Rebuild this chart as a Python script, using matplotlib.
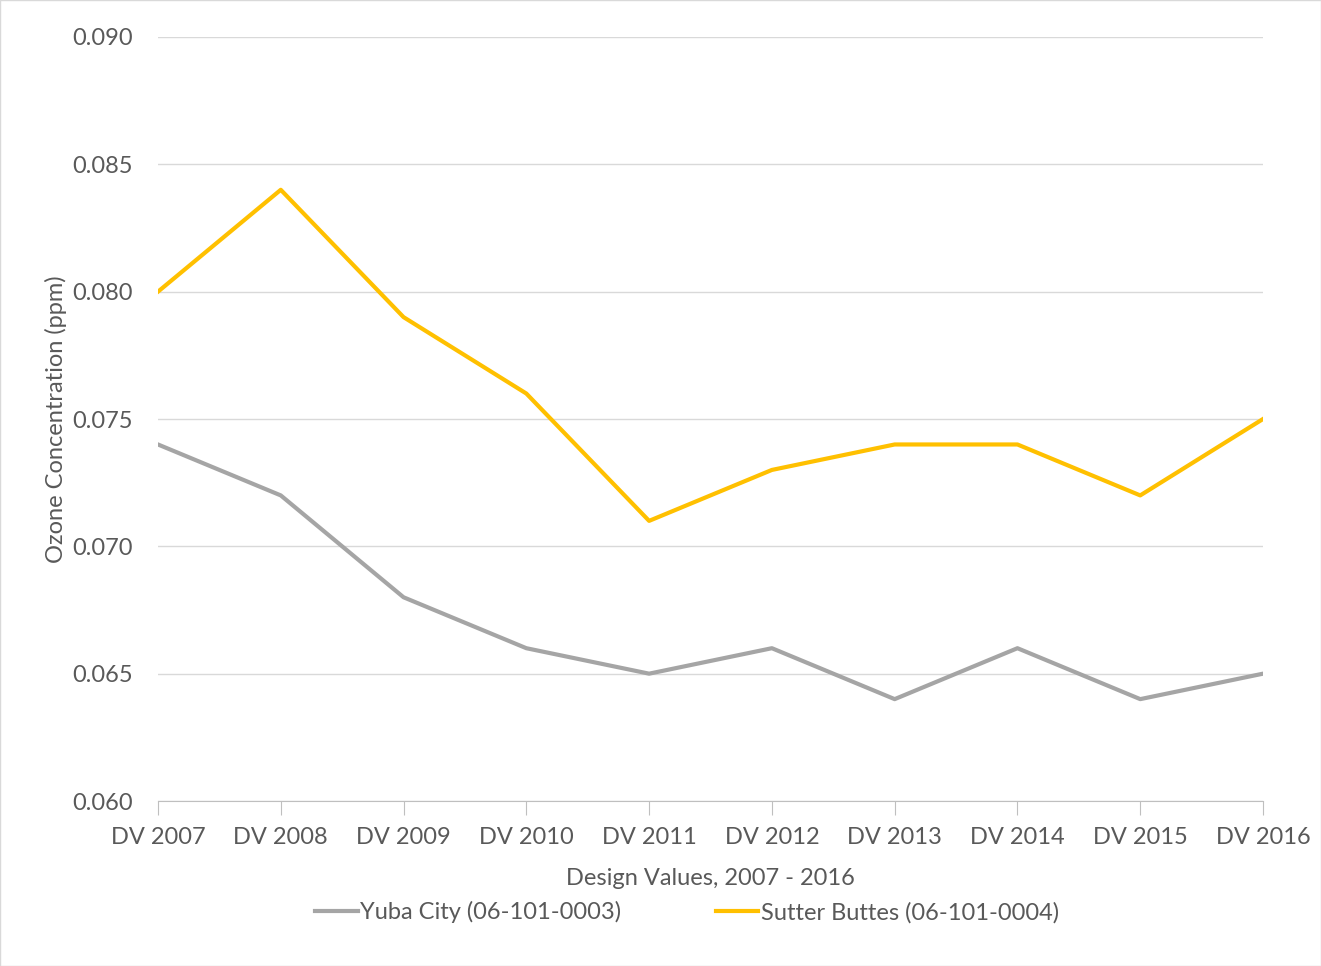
import matplotlib.pyplot as plt

years = ["DV 2007", "DV 2008", "DV 2009", "DV 2010", "DV 2011",
         "DV 2012", "DV 2013", "DV 2014", "DV 2015", "DV 2016"]
yuba_city = [0.074, 0.072, 0.068, 0.066, 0.065, 0.066, 0.064, 0.066, 0.064, 0.065]
sutter_buttes = [0.080, 0.084, 0.079, 0.076, 0.071, 0.073, 0.074, 0.074, 0.072, 0.075]
y_ticks = [0.060, 0.065, 0.070, 0.075, 0.080, 0.085, 0.090]

plt.rcParams['font.family'] = ['Lato', 'DejaVu Sans']
text_color = '#595959'

fig = plt.figure(figsize=(13.21, 9.66), dpi=100)
ax = fig.add_axes([0.1196, 0.1708, 0.8365, 0.7909])

x = range(len(years))
ax.plot(x, yuba_city, color='#A5A5A5', linewidth=3, label='Yuba City (06-101-0003)')
ax.plot(x, sutter_buttes, color='#FFC000', linewidth=3, label='Sutter Buttes (06-101-0004)')

ax.set_xlim(0, len(years) - 1)
ax.set_ylim(0.060, 0.090)
ax.set_yticks(y_ticks)
ax.set_yticklabels([f"{v:.3f}" for v in y_ticks])
ax.set_xticks(list(x))
ax.set_xticklabels(years)

ax.grid(axis='y', color='#D9D9D9', linewidth=1)
ax.set_axisbelow(True)
for side in ['top', 'right', 'left']:
    ax.spines[side].set_visible(False)
ax.spines['bottom'].set_color('#BFBFBF')
ax.tick_params(axis='y', length=0, labelsize=17, labelcolor=text_color, pad=18)
ax.tick_params(axis='x', length=10, color='#BFBFBF', labelsize=17, labelcolor=text_color, pad=9)

ax.set_ylabel('Ozone Concentration (ppm)', fontsize=17, color=text_color, labelpad=4)
ax.set_xlabel('Design Values, 2007 - 2016', fontsize=17, color=text_color, labelpad=14)

fig.legend(loc='lower center', bbox_to_anchor=(0.52, 0.022), ncol=2, frameon=False,
           fontsize=17, labelcolor=text_color, handlelength=1.8, handletextpad=0.1,
           columnspacing=4)

fig.patches.append(plt.Rectangle((0, 0), 1, 1, transform=fig.transFigure,
                                 fill=False, edgecolor='#D9D9D9', linewidth=1))

fig.savefig('out.png', dpi=100)
